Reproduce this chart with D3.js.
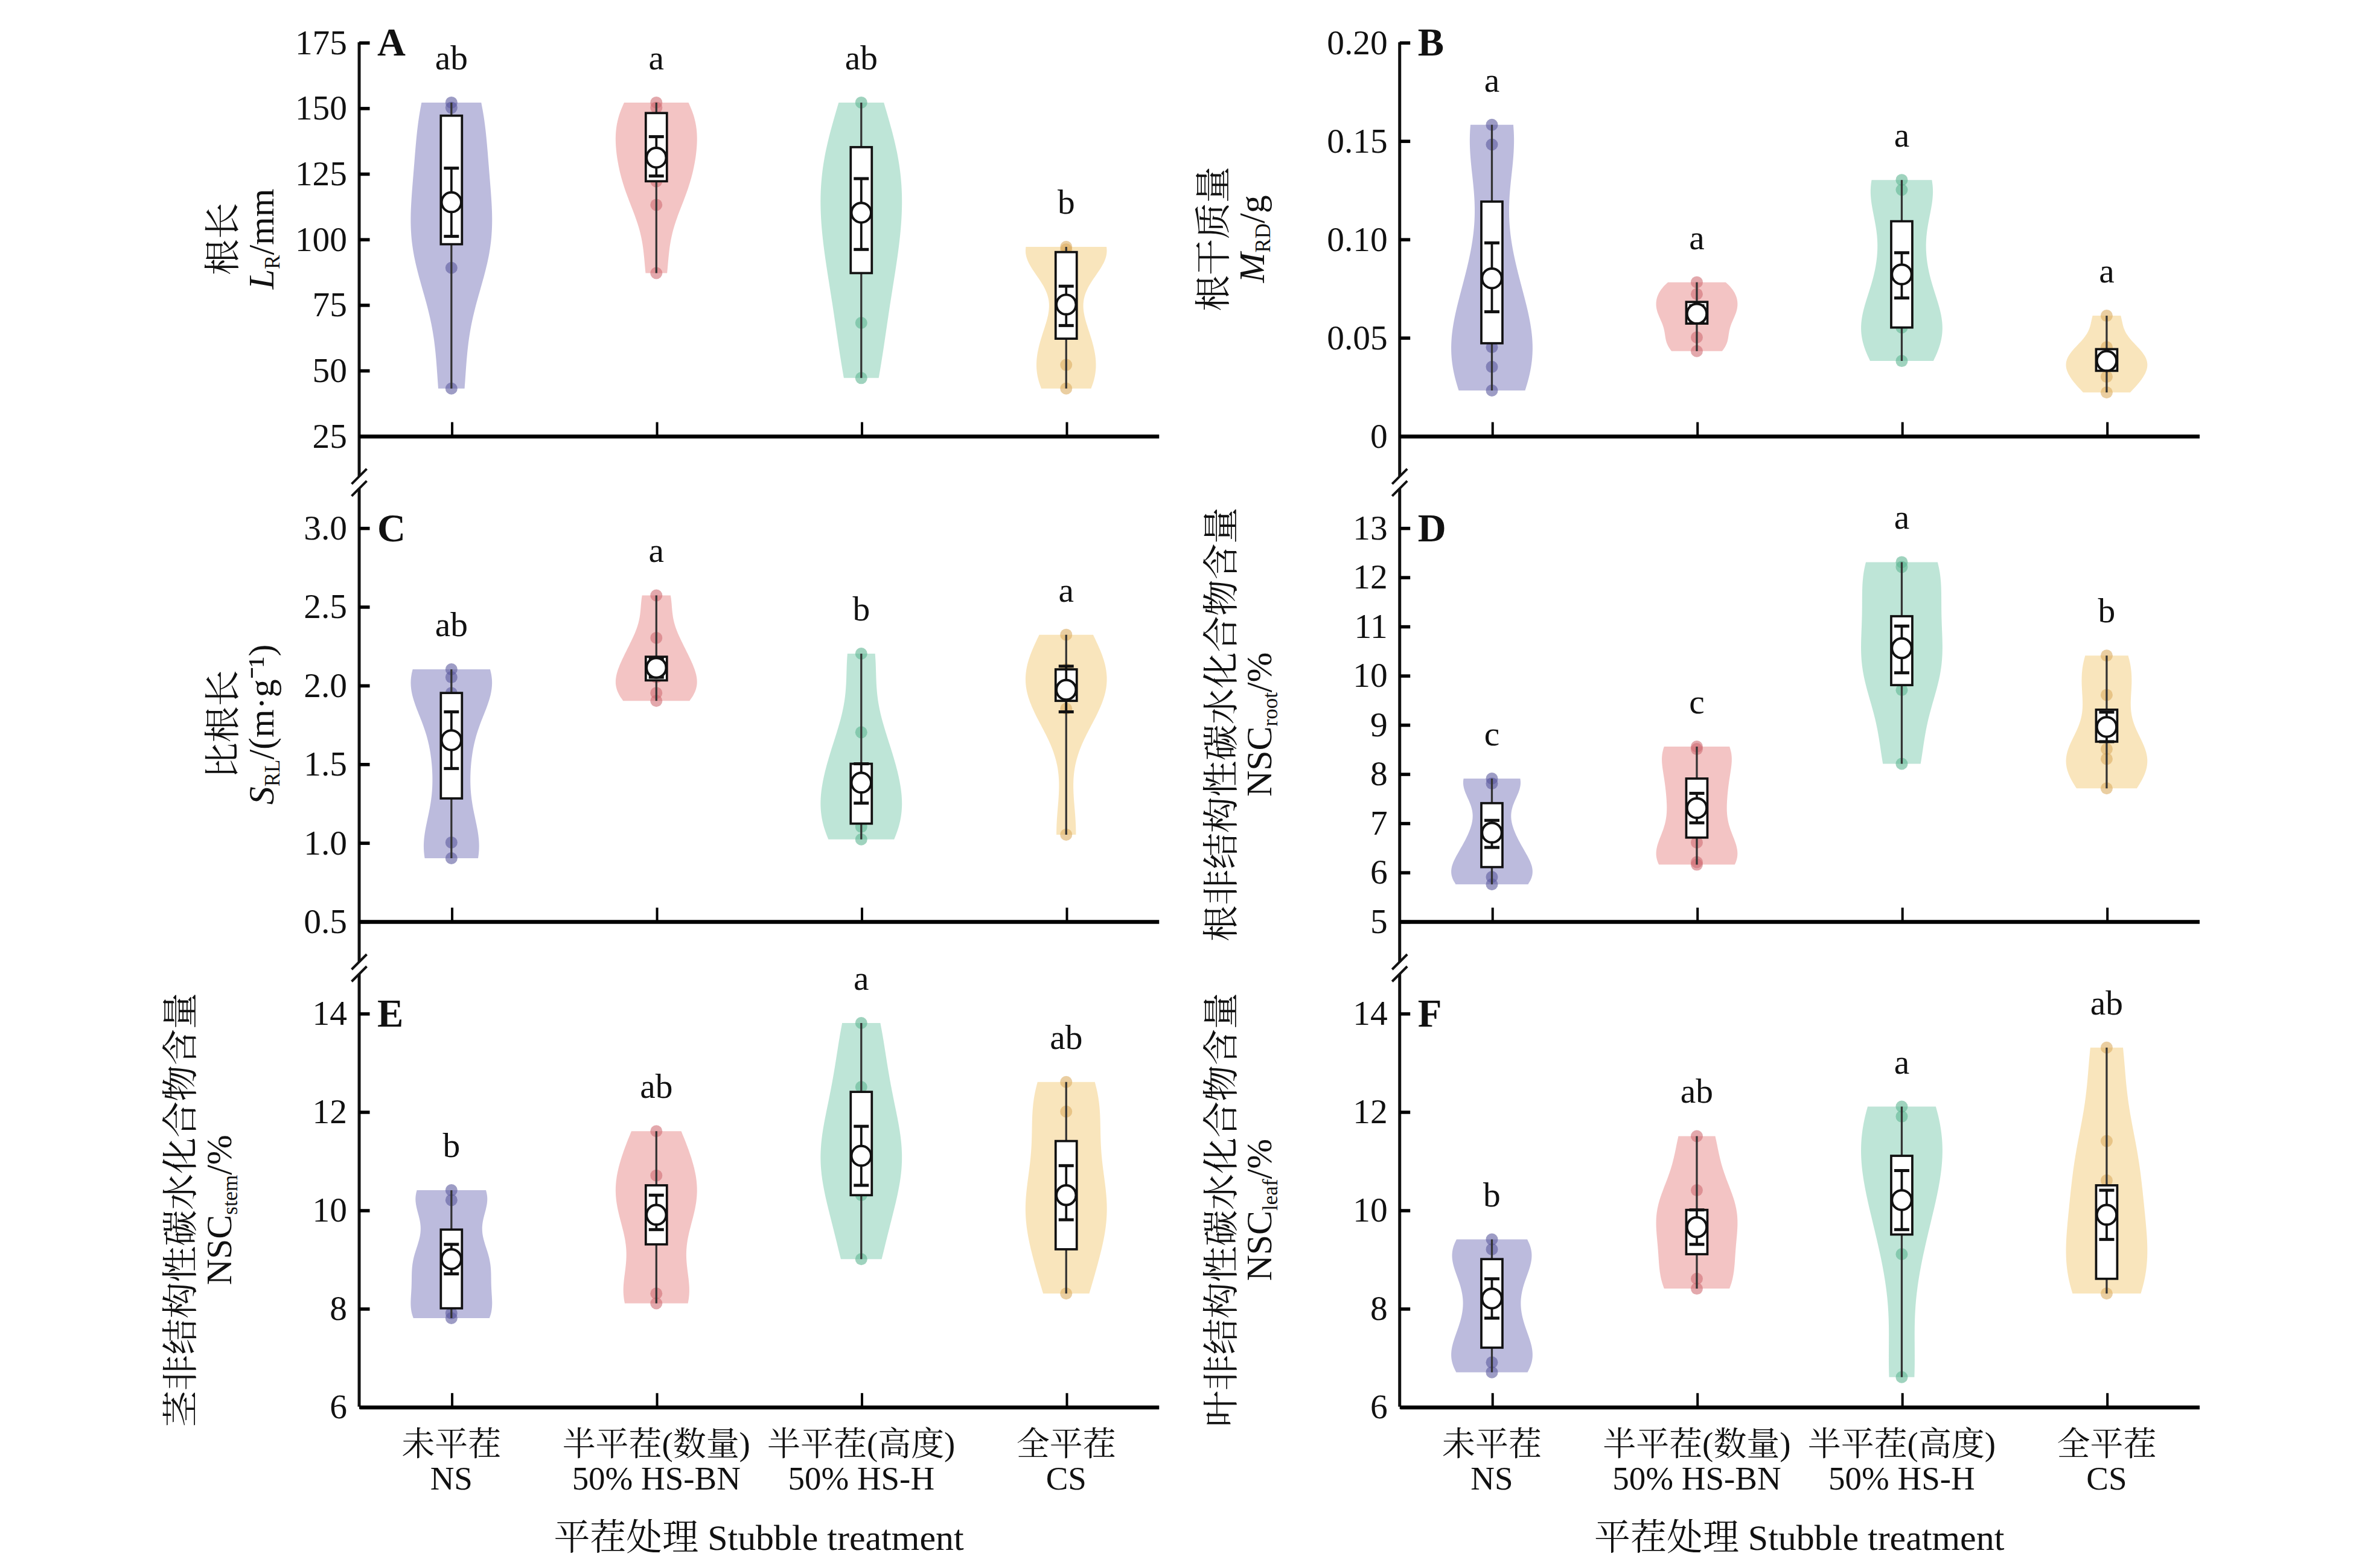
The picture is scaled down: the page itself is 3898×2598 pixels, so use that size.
<!DOCTYPE html>
<html><head><meta charset="utf-8">
<script src="https://cdn.jsdelivr.net/npm/d3@7"></script>
<style>body{margin:0;background:#fff}text{font-family:"Liberation Serif","Noto Serif CJK SC","Noto Sans CJK SC",serif;fill:#111}</style>
</head><body><svg width="3898" height="2598" viewBox="0 0 1560 1040"></svg>
<script>
const groups = ["NS", "HS-BN", "HS-H", "CS"];
const fills = ["#8f8ec6", "#eb9c9c", "#93d3bc", "#f5d490"];
const dots = ["#5c5a9e", "#d06e75", "#5fb593", "#dcae63"];

// each group: points, box [q1,q3], mean, error [lo,hi], letter
const panels = [
  {id: "A", col: 0, row: 0, domain: [25, 175], ticks: [25,50,75,100,125,150,175], zh: "根长", sym: "L", sub: "R", unit: "/mm",
   g: [
    {p: [152,150,126,103,100,89,43], box: [98,147], mean: 114, err: [101,127], l: "ab"},
    {p: [152,150,142,138,126,122,113,87], box: [122,148], mean: 131, err: [124,139], l: "a"},
    {p: [152,131,125,115,95,93,68,47], box: [87,135], mean: 110, err: [96,123], l: "ab"},
    {p: [97,96,94,65,52,43], box: [62,95], mean: 75, err: [67,82], l: "b"}]},
  {id: "B", col: 1, row: 0, domain: [0, 0.2], ticks: [0,0.05,0.1,0.15,0.2], fmt: d => d === 0 ? "0" : d3.format(".2f")(d), zh: "根干质量", sym: "M", sub: "RD", unit: "/g",
   g: [
    {p: [0.158,0.148,0.09,0.06,0.045,0.035,0.023], box: [0.047,0.119], mean: 0.080, err: [0.063,0.098], l: "a"},
    {p: [0.078,0.072,0.065,0.06,0.05,0.043], box: [0.057,0.068], mean: 0.062, err: [0.058,0.066], l: "a"},
    {p: [0.13,0.125,0.09,0.06,0.055,0.038], box: [0.055,0.109], mean: 0.082, err: [0.07,0.093], l: "a"},
    {p: [0.061,0.045,0.04,0.035,0.03,0.022], box: [0.033,0.044], mean: 0.038, err: [0.035,0.041], l: "a"}]},
  {id: "C", col: 0, row: 1, domain: [0.5, 3.0], ticks: [0.5,1,1.5,2,2.5,3], fmt: d3.format(".1f"), zh: "比根长", sym: "S", sub: "RL", unit: "/(m·g⁻¹)",
   g: [
    {p: [2.1,2.05,1.95,1.5,1.0,0.9], box: [1.28,1.95], mean: 1.65, err: [1.47,1.83], l: "ab"},
    {p: [2.57,2.3,2.15,2.05,1.95,1.9], box: [2.03,2.18], mean: 2.11, err: [2.05,2.17], l: "a"},
    {p: [2.2,1.7,1.45,1.3,1.1,1.02], box: [1.12,1.5], mean: 1.38, err: [1.25,1.5], l: "b"},
    {p: [2.32,2.1,2.05,1.95,1.85,1.05], box: [1.9,2.1], mean: 1.97, err: [1.83,2.12], l: "a"}]},
  {id: "D", col: 1, row: 1, domain: [5, 13], ticks: d3.range(5, 14), zh: "根非结构性碳水化合物含量", sym: "NSC", sub: "root", unit: "/%", upright: true,
   g: [
    {p: [7.9,7.8,6.8,6.2,5.9,5.75], box: [6.1,7.4], mean: 6.8, err: [6.5,7.05], l: "c"},
    {p: [8.55,8.5,7.8,7.3,6.6,6.2,6.15], box: [6.7,7.9], mean: 7.3, err: [7.0,7.6], l: "c"},
    {p: [12.3,12.2,11.0,10.3,9.7,8.2], box: [9.8,11.2], mean: 10.55, err: [10.05,11.0], l: "a"},
    {p: [10.4,9.6,8.5,8.3,7.7], box: [8.65,9.3], mean: 8.95, err: [8.65,9.25], l: "b"}]},
  {id: "E", col: 0, row: 2, domain: [6, 14], ticks: [6,8,10,12,14], zh: "茎非结构性碳水化合物含量", sym: "NSC", sub: "stem", unit: "/%", upright: true,
   g: [
    {p: [10.4,10.2,9.1,8.8,7.9,7.8], box: [8.0,9.6], mean: 9.0, err: [8.7,9.3], l: "b"},
    {p: [11.6,10.7,10.3,9.6,8.3,8.1], box: [9.3,10.5], mean: 9.9, err: [9.6,10.3], l: "ab"},
    {p: [13.8,12.5,11.4,11.0,10.3,9.0], box: [10.3,12.4], mean: 11.1, err: [10.5,11.7], l: "a"},
    {p: [12.6,12.0,10.8,10.0,9.5,8.3], box: [9.2,11.4], mean: 10.3, err: [9.8,10.9], l: "ab"}]},
  {id: "F", col: 1, row: 2, domain: [6, 14], ticks: [6,8,10,12,14], zh: "叶非结构性碳水化合物含量", sym: "NSC", sub: "leaf", unit: "/%", upright: true,
   g: [
    {p: [9.4,9.2,8.8,8.0,7.3,6.9,6.7], box: [7.2,9.0], mean: 8.2, err: [7.8,8.6], l: "b"},
    {p: [11.5,10.4,9.9,9.5,8.6,8.4], box: [9.1,10.0], mean: 9.65, err: [9.3,10.0], l: "ab"},
    {p: [12.1,11.9,10.9,10.5,9.1,6.6], box: [9.5,11.1], mean: 10.2, err: [9.6,10.8], l: "a"},
    {p: [13.3,11.4,10.6,9.5,8.7,8.3], box: [8.6,10.5], mean: 9.9, err: [9.4,10.4], l: "ab"}]}
];

const colLeft = [238, 928], plotW = 530;
const rowTop = [28, 350, 672], plotH = 261;
const svg = d3.select("svg");

// continuous y axis lines with break marks per column
colLeft.forEach(x0 => {
  svg.append("line").attr("x1", x0).attr("x2", x0).attr("y1", rowTop[0]).attr("y2", rowTop[2] + plotH)
    .attr("stroke", "#111").attr("stroke-width", 2);
  [rowTop[1] - 30, rowTop[2] - 30].forEach(yb => {
    svg.append("rect").attr("x", x0 - 8).attr("y", yb - 4).attr("width", 16).attr("height", 8).attr("fill", "#fff");
    [-4, 4].forEach(o => svg.append("line").attr("x1", x0 - 5).attr("x2", x0 + 5)
      .attr("y1", yb + o + 5).attr("y2", yb + o - 5).attr("stroke", "#111").attr("stroke-width", 1.6));
  });
});

function kde(pts, bw) {
  return y => d3.mean(pts, v => Math.exp(-0.5 * ((y - v) / bw) ** 2));
}

panels.forEach(P => {
  const left = colLeft[P.col], top = rowTop[P.row];
  const g = svg.append("g").attr("transform", `translate(${left},${top})`);
  const y = d3.scaleLinear().domain(P.domain).range([plotH, 0]);
  const x = d3.scalePoint().domain(groups).range([0, plotW]).padding(0.45);

  // x axis
  const xa = g.append("g").attr("transform", `translate(0,${plotH})`)
    .call(d3.axisBottom(x).tickSizeInner(-9).tickSizeOuter(0).tickFormat(""));
  xa.select(".domain").attr("stroke-width", 2.6);
  xa.selectAll(".tick line").attr("stroke-width", 1.6);
  // y axis
  const ya = g.append("g").call(d3.axisLeft(y).tickValues(P.ticks).tickSizeInner(-7).tickSizeOuter(0).tickPadding(8)
    .tickFormat(P.fmt || d3.format("d")));
  ya.select(".domain").remove();
  ya.selectAll(".tick line").attr("stroke-width", 2.2);
  ya.selectAll("text").attr("font-size", 23).style("font-family", "Liberation Serif");

  g.append("text").attr("x", 12).attr("y", 9).attr("font-size", 26).attr("font-weight", "bold").text(P.id);

  P.g.forEach((d, i) => {
    const cx = x(groups[i]);
    const lo = d3.min(d.p), hi = d3.max(d.p);
    const bw = (hi - lo) * 0.2;
    const f = kde(d.p, bw);
    const ys = d3.range(0, 41).map(k => lo + (hi - lo) * k / 40);
    const dens = ys.map(f);
    const w = d3.scaleLinear().domain([0, d3.max(dens)]).range([0, 27]);
    const area = d3.area().curve(d3.curveBasis)
      .y(v => y(v[0])).x0(v => cx - w(v[1])).x1(v => cx + w(v[1]));
    g.append("path").attr("d", area(ys.map((v, k) => [v, dens[k]])))
      .attr("fill", fills[i]).attr("opacity", 0.6);
    g.selectAll(null).data(d.p).enter().append("circle")
      .attr("cx", cx).attr("cy", v => y(v)).attr("r", 4).attr("fill", dots[i]).attr("opacity", 0.6);
    g.append("line").attr("x1", cx).attr("x2", cx).attr("y1", y(lo)).attr("y2", y(hi))
      .attr("stroke", "#333").attr("stroke-width", 1.3);
    g.append("rect").attr("x", cx - 7).attr("width", 14).attr("y", y(d.box[1])).attr("height", y(d.box[0]) - y(d.box[1]))
      .attr("fill", "#fff").attr("stroke", "#111").attr("stroke-width", 1.5);
    g.append("line").attr("x1", cx).attr("x2", cx).attr("y1", y(d.err[0])).attr("y2", y(d.err[1]))
      .attr("stroke", "#111").attr("stroke-width", 1.5);
    d.err.forEach(v => g.append("line").attr("x1", cx - 5).attr("x2", cx + 5).attr("y1", y(v)).attr("y2", y(v))
      .attr("stroke", "#111").attr("stroke-width", 2));
    g.append("circle").attr("cx", cx).attr("cy", y(d.mean)).attr("r", 6.5)
      .attr("fill", "#fff").attr("stroke", "#111").attr("stroke-width", 1.6);
    g.append("text").attr("x", cx).attr("y", y(hi) - 22).attr("text-anchor", "middle").attr("font-size", 23).text(d.l);
  });

  // y title, two lines rotated
  const tx = P.upright ? -110 : (P.id === "B" ? -115 : -82);
  const t = g.append("text").attr("transform", `translate(${tx},${plotH / 2}) rotate(-90)`)
    .attr("text-anchor", "middle").attr("font-size", 24);
  t.append("tspan").attr("x", 0).text(P.zh);
  const t2 = t.append("tspan").attr("x", 0).attr("dy", 25);
  t2.append("tspan").attr("font-style", P.upright ? "normal" : "italic").text(P.sym);
  t2.append("tspan").attr("font-size", 14).attr("dy", 4).text(P.sub);
  t2.append("tspan").attr("dy", -4).text(P.unit);

  if (P.row === 2) {
    const zh = ["未平茬", "半平茬(数量)", "半平茬(高度)", "全平茬"];
    const en = ["NS", "50% HS-BN", "50% HS-H", "CS"];
    groups.forEach((k, i) => {
      g.append("text").attr("x", x(k)).attr("y", plotH + 32).attr("text-anchor", "middle").attr("font-size", 22).text(zh[i]);
      g.append("text").attr("x", x(k)).attr("y", plotH + 55).attr("text-anchor", "middle").attr("font-size", 22).text(en[i]);
    });
    g.append("text").attr("x", plotW / 2).attr("y", plotH + 95).attr("text-anchor", "middle").attr("font-size", 24)
      .text("平茬处理 Stubble treatment");
  }
});
</script></body></html>
